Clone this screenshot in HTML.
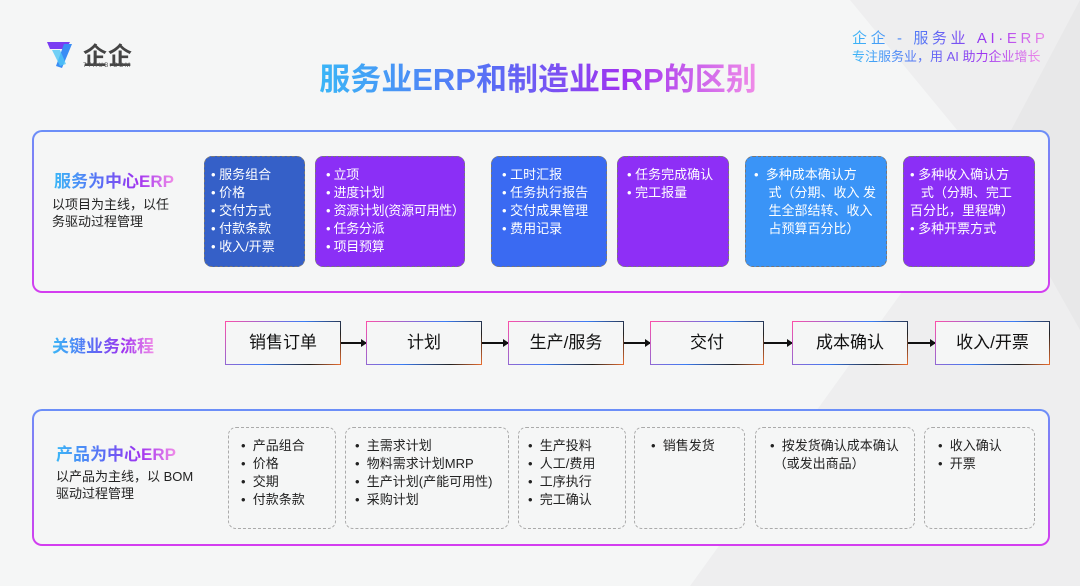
<!DOCTYPE html>
<html><head><meta charset="utf-8"><style>
*{margin:0;padding:0;box-sizing:border-box}
body{width:1080px;height:586px;background:#f5f6f6;position:relative;overflow:hidden;font-family:"Liberation Sans","Noto Sans CJK SC",sans-serif}
.abs{position:absolute}
.grad{background:linear-gradient(90deg,#3ab6f7,#5a6cf5 40%,#a033f0 70%,#f08ce8);-webkit-background-clip:text;background-clip:text;color:transparent}
.panel{position:absolute;left:32px;width:1018px;border-radius:10px;padding:2px;background:linear-gradient(180deg,#6b8ff8,#d43df0)}
.panel>div{width:100%;height:100%;border-radius:8px;background:#f5f6f6}
.sb{position:absolute;top:156px;height:111px;border-radius:8px;border:1px dashed #777;color:#fff;font-size:13px;line-height:18px;padding:9px 4px 0 6px;white-space:nowrap;overflow:hidden}
.pb{position:absolute;top:427px;height:102px;border-radius:8px;border:1px dashed #aaa;color:#222;font-size:13px;line-height:18px;padding:9px 4px 0 12px;white-space:nowrap}
.fb{position:absolute;top:321px;height:44px;background:#f5f6f6;font-size:17px;color:#111;text-align:center;line-height:42px;border:1.5px solid;border-image:linear-gradient(135deg,#ff4fa8,#3a7cf5 50%,#222 80%,#f07030) 1}
.ar{position:absolute;top:342px;height:1.5px;background:#111}
.ar:after{content:"";position:absolute;right:-1px;top:-3.5px;border-left:6px solid #111;border-top:4px solid transparent;border-bottom:4px solid transparent}
</style></head><body>
<svg class="abs" style="left:0;top:0" width="1080" height="586"><polygon points="850,0 1080,0 1080,586 690,586 990,170" fill="#eeeeef"/><polygon points="990,170 1080,0 1080,330" fill="#e8e8e9"/></svg>
<svg class="abs" style="left:44px;top:38px" width="36" height="34"><path d="M3 4 L26 4 L22 11 L6 11 Z" fill="#7a3cf2"/><path d="M20 6 L28 6 L18 30 L12 28 Z" fill="#3a8cf5"/><path d="M8 12 L16 12 L22 26 L16 28 Z" fill="#50c7f6" opacity=".8"/></svg>
<div class="abs" style="left:83px;top:36px;font-size:24px;font-weight:bold;color:#444;letter-spacing:1px">企企</div>
<div class="abs" style="left:83px;top:63px;font-size:6px;color:#555;letter-spacing:1.5px">77HUB.COM</div>
<div class="abs" style="left:0;width:1080px;top:60px;text-align:center;line-height:40px;padding-right:4px"><span class="grad" style="display:inline-block;font-size:31px;font-weight:bold">服务业ERP和制造业ERP的区别</span></div>
<div class="abs grad" style="left:852px;top:30px;font-size:15px;letter-spacing:3.6px;line-height:18px;white-space:nowrap">企企 - 服务业 AI·ERP</div>
<div class="abs grad" style="left:852px;top:49px;font-size:13px;line-height:16px;white-space:nowrap">专注服务业，用 AI 助力企业增长</div>

<div class="panel" style="top:130px;height:163px"><div></div></div>
<div class="abs grad" style="left:54px;top:167px;font-size:17px;font-weight:bold">服务为中心ERP</div>
<div class="abs" style="left:52px;top:196px;font-size:13px;line-height:17px;color:#222;width:125px">以项目为主线，以任务驱动过程管理</div>
<div class="sb" style="left:204px;width:101px;background:#3560c8">• 服务组合<br>• 价格<br>• 交付方式<br>• 付款条款<br>• 收入/开票</div>
<div class="sb" style="left:315px;width:150px;background:#8b2ff6;padding-left:10px;letter-spacing:-0.3px">• 立项<br>• 进度计划<br>• 资源计划(资源可用性）<br>• 任务分派<br>• 项目预算</div>
<div class="sb" style="left:491px;width:116px;background:#3a6af2;padding-left:10px">• 工时汇报<br>• 任务执行报告<br>• 交付成果管理<br>• 费用记录</div>
<div class="sb" style="left:617px;width:112px;background:#8e2ff6;padding-left:9px">• 任务完成确认<br>• 完工报量</div>
<div class="sb" style="left:745px;width:142px;background:#3a94f7;padding-left:8px">•&nbsp; 多种成本确认方<br>&nbsp;&nbsp;&nbsp; 式（分期、收入 发<br>&nbsp;&nbsp;&nbsp; 生全部结转、收入<br>&nbsp;&nbsp;&nbsp; 占预算百分比）</div>
<div class="sb" style="left:903px;width:132px;background:#8b2ff6;padding-left:6px">• 多种收入确认方<br>&nbsp;&nbsp;&nbsp;式（分期、完工<br>百分比，里程碑）<br>• 多种开票方式</div>

<div class="abs grad" style="left:52px;top:332px;font-size:17px;font-weight:bold">关键业务流程</div>
<div class="fb" style="left:225px;width:116px">销售订单</div>
<div class="ar" style="left:341px;width:25px"></div>
<div class="fb" style="left:366px;width:116px">计划</div>
<div class="ar" style="left:482px;width:26px"></div>
<div class="fb" style="left:508px;width:116px">生产/服务</div>
<div class="ar" style="left:624px;width:26px"></div>
<div class="fb" style="left:650px;width:114px">交付</div>
<div class="ar" style="left:764px;width:28px"></div>
<div class="fb" style="left:792px;width:116px">成本确认</div>
<div class="ar" style="left:908px;width:27px"></div>
<div class="fb" style="left:935px;width:115px">收入/开票</div>

<div class="panel" style="top:409px;height:137px"><div></div></div>
<div class="abs grad" style="left:56px;top:440px;font-size:17px;font-weight:bold">产品为中心ERP</div>
<div class="abs" style="left:56px;top:468px;font-size:13px;line-height:17px;color:#222;width:160px">以产品为主线，以 BOM<br>驱动过程管理</div>
<div class="pb" style="left:228px;width:108px">•&nbsp; 产品组合<br>•&nbsp; 价格<br>•&nbsp; 交期<br>•&nbsp; 付款条款</div>
<div class="pb" style="left:345px;width:164px;padding-left:9px">•&nbsp; 主需求计划<br>•&nbsp; 物料需求计划MRP<br>•&nbsp; 生产计划(产能可用性)<br>•&nbsp; 采购计划</div>
<div class="pb" style="left:518px;width:108px;padding-left:9px">•&nbsp; 生产投料<br>•&nbsp; 人工/费用<br>•&nbsp; 工序执行<br>•&nbsp; 完工确认</div>
<div class="pb" style="left:634px;width:111px;padding-left:16px">•&nbsp; 销售发货</div>
<div class="pb" style="left:755px;width:160px;padding-left:14px">•&nbsp; 按发货确认成本确认<br>&nbsp;（或发出商品）</div>
<div class="pb" style="left:924px;width:111px;padding-left:13px">•&nbsp; 收入确认<br>•&nbsp; 开票</div>
</body></html>
